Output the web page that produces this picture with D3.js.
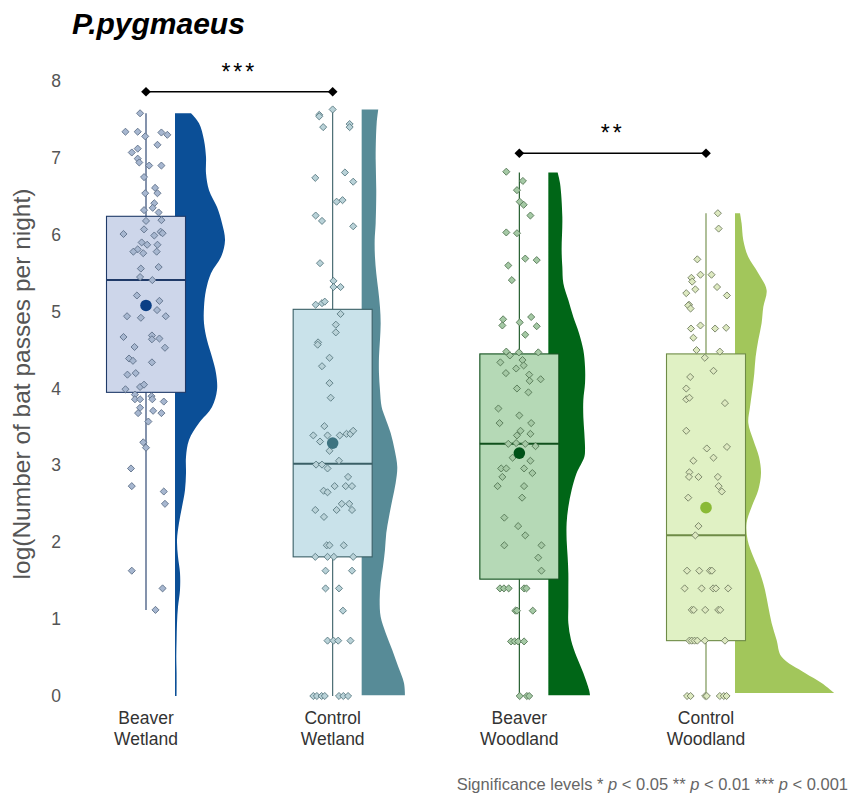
<!DOCTYPE html>
<html>
<head>
<meta charset="utf-8">
<script src="https://cdn.jsdelivr.net/npm/d3@7"></script>
<style>
  html, body { margin: 0; padding: 0; background: #fff; }
  svg { display: block; font-family: "Liberation Sans", Arial, sans-serif; }
</style>
</head>
<body>
<svg id="chart" width="852" height="795"></svg>
<script>
// ---- data ---------------------------------------------------------------
const categories = ["Beaver Wetland", "Control Wetland", "Beaver Woodland", "Control Woodland"];
const categoryLabels = [["Beaver", "Wetland"], ["Control", "Wetland"], ["Beaver", "Woodland"], ["Control", "Woodland"]];
const yTicks = [0, 1, 2, 3, 4, 5, 6, 7, 8];

// box-plot summaries (log bat passes per night)
const whiskerLow  = [1.12, 0.00, 0.00, 0.00];
const quartile1   = [3.95, 1.81, 1.52, 0.72];
const medians     = [5.41, 3.02, 3.28, 2.09];
const quartile3   = [6.24, 5.03, 4.45, 4.45];
const whiskerHigh = [7.58, 7.63, 6.81, 6.28];
const means       = [5.08, 3.29, 3.16, 2.45];

// half-violin density profiles: [value, density]
const densityBeaverWetland = [[0,0.016],[0.30,0.016],[0.51,0.013],[0.73,0.016],[0.95,0.02],[1.16,0.03],[1.38,0.05],[1.60,0.05],[1.81,0.03],[2.03,0.02],[2.25,0.04],[2.46,0.07],[2.68,0.10],[2.90,0.11],[3.11,0.11],[3.33,0.14],[3.55,0.24],[3.76,0.37],[3.98,0.42],[4.20,0.41],[4.41,0.37],[4.63,0.32],[4.85,0.29],[5.06,0.29],[5.28,0.31],[5.50,0.36],[5.71,0.46],[5.93,0.50],[6.15,0.47],[6.36,0.42],[6.58,0.34],[6.80,0.31],[7.01,0.31],[7.23,0.29],[7.45,0.24],[7.58,0.16]];
const densityControlWetland = [[0.01,0.433],[0.17,0.423],[0.38,0.366],[0.60,0.306],[0.82,0.24],[1.03,0.19],[1.25,0.18],[1.47,0.19],[1.68,0.213],[1.90,0.233],[2.12,0.246],[2.33,0.273],[2.55,0.306],[2.77,0.34],[2.98,0.356],[3.20,0.33],[3.42,0.29],[3.63,0.233],[3.76,0.20],[3.98,0.183],[4.20,0.173],[4.41,0.173],[4.63,0.183],[4.85,0.19],[5.06,0.183],[5.28,0.166],[5.50,0.146],[5.71,0.133],[5.93,0.13],[6.15,0.14],[6.58,0.146],[7.01,0.14],[7.45,0.15],[7.63,0.166]];
const densityBeaverWoodland = [[0.01,0.417],[0.08,0.407],[0.30,0.35],[0.51,0.283],[0.73,0.227],[0.95,0.20],[1.16,0.20],[1.38,0.20],[1.60,0.20],[1.81,0.193],[2.03,0.183],[2.25,0.183],[2.46,0.20],[2.68,0.233],[2.90,0.283],[3.11,0.36],[3.20,0.367],[3.42,0.36],[3.63,0.35],[3.85,0.35],[4.07,0.367],[4.28,0.367],[4.50,0.35],[4.72,0.307],[4.93,0.25],[5.15,0.20],[5.37,0.15],[5.58,0.14],[5.80,0.133],[6.23,0.14],[6.67,0.117],[6.81,0.093]];
const densityControlWoodland = [[0.04,0.993],[0.17,0.866],[0.30,0.70],[0.51,0.466],[0.73,0.416],[0.95,0.366],[1.16,0.333],[1.38,0.30],[1.60,0.25],[1.81,0.183],[2.03,0.126],[2.25,0.116],[2.46,0.166],[2.68,0.233],[2.90,0.26],[3.11,0.24],[3.33,0.183],[3.55,0.133],[3.76,0.15],[3.98,0.173],[4.20,0.193],[4.41,0.206],[4.63,0.233],[4.85,0.266],[5.06,0.283],[5.28,0.316],[5.50,0.233],[5.71,0.133],[5.93,0.083],[6.15,0.066],[6.28,0.05]];

// jittered observations: [jitter (fraction of half box width), value]
const pointsBeaverWetland = [[-0.15,7.58],[-0.52,7.34],[-0.21,7.34],[-0.02,7.28],[0.39,7.33],[0.54,7.30],[0.29,7.17],[-0.21,7.12],[-0.36,7.07],[-0.21,6.99],[-0.17,6.94],[0.08,6.90],[0.39,6.90],[-0.05,6.75],[0.23,6.61],[0.29,6.54],[-0.02,6.54],[0.21,6.41],[0.17,6.35],[-0.05,6.32],[0.32,6.29],[0,6.18],[0.39,6.19],[-0.57,6.01],[-0.05,6.07],[0.21,5.99],[0.37,6.04],[0.42,6.02],[-0.11,5.90],[0.03,5.87],[0.29,5.87],[-0.21,5.81],[-0.32,5.78],[-0.07,5.76],[0.27,5.78],[-0.13,5.56],[0.32,5.58],[-0.15,5.45],[0.16,5.41],[-0.23,5.21],[0.34,5.14],[0.28,5.02],[-0.48,4.94],[-0.13,4.92],[0.5,4.94],[-0.57,4.67],[0.15,4.69],[0.15,4.64],[0.34,4.65],[-0.29,4.54],[0.48,4.53],[-0.43,4.39],[-0.33,4.36],[0.15,4.34],[-0.47,4.18],[-0.26,4.20],[-0.15,4.02],[-0.05,4.05],[-0.52,3.99],[-0.28,3.92],[-0.28,3.86],[-0.15,3.86],[0.14,3.90],[0.16,3.86],[0.45,3.83],[-0.15,3.75],[-0.2,3.68],[0.18,3.71],[0.39,3.68],[0.06,3.57],[-0.07,3.30],[0,3.23],[-0.38,2.96],[-0.36,2.73],[0.45,2.66],[0.48,2.50],[-0.36,1.63],[0.42,1.40],[0.24,1.12]];
const pointsControlWetland = [[0,7.63],[-0.34,7.56],[-0.34,7.54],[-0.24,7.40],[0.43,7.44],[0.43,7.40],[-0.44,6.74],[0.31,6.81],[0.52,6.69],[0.1,6.43],[0.25,6.45],[-0.43,6.25],[-0.27,6.18],[0.52,6.11],[-0.32,5.63],[0.02,5.40],[0.02,5.32],[0.2,5.32],[-0.43,5.09],[-0.27,5.11],[-0.2,5.13],[0.2,4.97],[0.08,4.83],[0.08,4.73],[-0.37,4.60],[-0.38,4.57],[-0.08,4.40],[-0.27,4.29],[-0.08,4.07],[-0.05,3.88],[-0.21,3.51],[-0.49,3.39],[-0.13,3.39],[-0.32,3.31],[0.18,3.39],[0.35,3.41],[0.45,3.41],[0.52,3.45],[-0.08,3.19],[0.16,3.06],[-0.42,3.01],[-0.27,3.01],[-0.13,2.96],[0.39,2.85],[0.05,2.73],[0.33,2.73],[0.49,2.73],[-0.23,2.67],[-0.13,2.65],[0.23,2.50],[0.42,2.50],[-0.44,2.42],[0.1,2.42],[0.49,2.42],[-0.22,2.33],[-0.15,1.96],[-0.08,1.96],[0.28,1.96],[-0.44,1.81],[-0.13,1.81],[0.03,1.81],[0.52,1.81],[-0.18,1.63],[0.49,1.63],[-0.18,1.40],[0.16,1.40],[0.26,1.11],[-0.13,0.72],[0.02,0.72],[0.14,0.72],[0.45,0.72],[-0.49,0],[-0.4,0],[-0.28,0],[-0.2,0],[0.16,0],[0.27,0],[0.39,0]];
const pointsBeaverWoodland = [[-0.33,6.82],[0.09,6.70],[-0.06,6.58],[0.01,6.43],[0.11,6.39],[0.28,6.25],[-0.33,6.03],[-0.06,6.02],[0.15,5.69],[0.44,5.67],[-0.28,5.60],[-0.19,5.41],[-0.41,4.90],[-0.43,4.82],[0.01,4.86],[0.3,4.93],[0.44,4.81],[0.15,4.70],[-0.33,4.48],[-0.24,4.43],[-0.01,4.47],[0.48,4.47],[-0.48,4.34],[0.08,4.37],[0.11,4.30],[-0.08,4.26],[-0.34,4.20],[0.25,4.18],[0.26,4.10],[0.54,4.12],[-0.06,4.00],[0.23,3.95],[-0.53,3.74],[0,3.65],[-0.5,3.55],[0.3,3.55],[0.03,3.45],[-0.06,3.39],[0.28,3.41],[-0.28,3.28],[-0.08,3.29],[0.15,3.28],[0.41,3.25],[-0.17,3.10],[0.28,3.06],[-0.46,2.96],[-0.33,2.96],[0.12,2.96],[0.33,2.90],[-0.43,2.85],[-0.55,2.73],[0.12,2.73],[0.07,2.58],[-0.38,2.32],[-0.03,2.21],[0.15,2.09],[-0.38,1.96],[0.56,1.96],[0.48,1.80],[0.56,1.63],[-0.49,1.40],[-0.39,1.40],[-0.27,1.40],[0.12,1.40],[0.18,1.40],[-0.1,1.11],[-0.06,1.11],[0.34,1.11],[-0.21,0.71],[-0.12,0.71],[-0.03,0.71],[0.12,0.71],[0.01,0],[0.19,0],[0.25,0]];
const pointsControlWoodland = [[0.3,6.28],[0.32,6.08],[-0.22,5.68],[-0.37,5.44],[-0.35,5.39],[-0.14,5.48],[0.14,5.48],[-0.27,5.29],[0.28,5.32],[-0.5,5.24],[0.53,5.21],[-0.43,5.09],[-0.45,5.08],[-0.39,5.04],[-0.38,4.78],[-0.14,4.82],[0.23,4.78],[0.51,4.79],[-0.32,4.66],[-0.24,4.50],[0.35,4.48],[-0.03,4.40],[0.19,4.23],[-0.4,4.15],[-0.5,4.00],[-0.5,3.86],[-0.42,3.88],[0.48,3.81],[-0.5,3.45],[0.02,3.22],[0.53,3.24],[-0.32,3.06],[0.19,3.10],[-0.42,2.91],[-0.43,2.85],[-0.19,2.85],[0.3,2.85],[0.32,2.73],[0.4,2.66],[-0.45,2.58],[-0.19,2.21],[-0.27,2.09],[-0.48,1.63],[-0.17,1.63],[0.1,1.63],[0.15,1.63],[-0.54,1.40],[-0.11,1.40],[0.18,1.40],[0.25,1.40],[0.56,1.40],[-0.36,1.12],[-0.31,1.12],[-0.02,1.12],[0.31,1.12],[0.36,1.12],[-0.42,0.72],[-0.36,0.72],[-0.29,0.72],[-0.22,0.72],[-0.03,0.72],[0.48,0.72],[-0.48,0],[-0.39,0],[-0.02,0],[0.02,0],[0.35,0],[0.45,0],[0.52,0]];

// significance comparisons
const comparisonPairs  = [["Beaver Wetland", "Control Wetland"], ["Beaver Woodland", "Control Woodland"]];
const comparisonLevels = [7.86, 7.06];
const comparisonStars  = ["***", "**"];

const densities = [densityBeaverWetland, densityControlWetland, densityBeaverWoodland, densityControlWoodland];
const pointSets = [pointsBeaverWetland, pointsControlWetland, pointsBeaverWoodland, pointsControlWoodland];

// ---- styles -------------------------------------------------------------
const palette = [
  { dens: "#0b4f97", box: "#cdd6ea", line: "#1f3a68", mean: "#0a3f85", ptFill: "#a7b7d0", ptStroke: "#5f7089" },
  { dens: "#578b97", box: "#c9e2ea", line: "#3a5f66", mean: "#3d7380", ptFill: "#b9d2d8", ptStroke: "#5a7a82" },
  { dens: "#006617", box: "#b5d9b6", line: "#11501c", mean: "#005218", ptFill: "#a5c9a5", ptStroke: "#557755" },
  { dens: "#a2c65b", box: "#e0f1c4", line: "#6e8b46", mean: "#8aba36", ptFill: "#dde9c0", ptStroke: "#737f62" }
];

// ---- scales -------------------------------------------------------------
const svg = d3.select("#chart");
const y = d3.scaleLinear().domain([0, 8]).range([696, 81]);
const x = d3.scalePoint().domain(categories).range([146, 706]);
const halfBox = 39.5;
const jitterScale = d3.scaleLinear().domain([-1, 1]).range([-halfBox, halfBox]);
const densWidth = d3.scaleLinear().domain([0, 1]).range([0, 100]);
const densOffset = 29;

// ---- title --------------------------------------------------------------
svg.append("text")
  .attr("x", 72).attr("y", 34)
  .attr("font-size", 30).attr("font-weight", "bold").attr("font-style", "italic")
  .attr("fill", "#000")
  .text("P.pygmaeus");

// ---- y axis -------------------------------------------------------------
const yAxis = svg.append("g")
  .attr("transform", "translate(64,0)")
  .call(d3.axisLeft(y).tickValues(yTicks).tickSize(0).tickPadding(3).tickFormat(d3.format("d")));
yAxis.select(".domain").remove();
yAxis.selectAll("text")
  .attr("font-size", 17.5).attr("fill", "#555").attr("font-family", "Liberation Sans, Arial, sans-serif");

svg.append("text")
  .attr("transform", "translate(30," + 384 + ") rotate(-90)")
  .attr("text-anchor", "middle")
  .attr("font-size", 24.5).attr("fill", "#555")
  .text("log(Number of bat passes per night)");

// ---- raincloud groups ---------------------------------------------------
const area = d3.area()
  .curve(d3.curveCatmullRom)
  .y(d => y(d[0]));

const diamond = d3.symbol().type(d3.symbolDiamond2 || d3.symbolDiamond).size(32);

categories.forEach((cat, i) => {
  const cx = x(cat);
  const col = palette[i];
  const g = svg.append("g");

  // half violin
  const left = cx + densOffset;
  g.append("path")
    .datum(densities[i])
    .attr("d", area.x0(left).x1(d => left + densWidth(d[1])))
    .attr("fill", col.dens);

  // whiskers
  g.append("line")
    .attr("x1", cx).attr("x2", cx)
    .attr("y1", y(whiskerLow[i])).attr("y2", y(quartile1[i]))
    .attr("stroke", col.line).attr("stroke-width", 1.1);
  g.append("line")
    .attr("x1", cx).attr("x2", cx)
    .attr("y1", y(quartile3[i])).attr("y2", y(whiskerHigh[i]))
    .attr("stroke", col.line).attr("stroke-width", 1.1);

  // box
  g.append("rect")
    .attr("x", cx - halfBox).attr("width", halfBox * 2)
    .attr("y", y(quartile3[i])).attr("height", y(quartile1[i]) - y(quartile3[i]))
    .attr("fill", col.box).attr("stroke", col.line).attr("stroke-width", 1.1);
  g.append("line")
    .attr("x1", cx - halfBox).attr("x2", cx + halfBox)
    .attr("y1", y(medians[i])).attr("y2", y(medians[i]))
    .attr("stroke", col.line).attr("stroke-width", 2);

  // observations
  g.selectAll("path.pt")
    .data(pointSets[i])
    .join("path")
    .attr("class", "pt")
    .attr("d", diamond)
    .attr("transform", d => `translate(${cx + jitterScale(d[0])},${y(d[1])})`)
    .attr("fill", col.ptFill).attr("stroke", col.ptStroke).attr("stroke-width", 0.9);

  // mean
  g.append("circle")
    .attr("cx", cx).attr("cy", y(means[i])).attr("r", 5.8)
    .attr("fill", col.mean);

  // category label
  const lab = svg.append("text")
    .attr("text-anchor", "middle")
    .attr("font-size", 17.5).attr("fill", "#333");
  categoryLabels[i].forEach((line, k) => {
    lab.append("tspan").attr("x", cx).attr("y", 724 + k * 21).text(line);
  });
});

// ---- significance brackets ---------------------------------------------
const marker = d3.symbol().type(d3.symbolDiamond2 || d3.symbolDiamond).size(60);
comparisonPairs.forEach((pair, i) => {
  const x1 = x(pair[0]), x2 = x(pair[1]), yy = y(comparisonLevels[i]);
  const g = svg.append("g");
  g.append("line")
    .attr("x1", x1).attr("x2", x2).attr("y1", yy).attr("y2", yy)
    .attr("stroke", "#000").attr("stroke-width", 1.3);
  [x1, x2].forEach(px => {
    g.append("path").attr("d", marker).attr("transform", `translate(${px},${yy})`).attr("fill", "#000");
  });
  g.append("text")
    .attr("x", (x1 + x2) / 2).attr("y", yy - 12)
    .attr("text-anchor", "middle")
    .attr("font-size", 23).attr("letter-spacing", 3).attr("fill", "#000")
    .text(comparisonStars[i]);
});

// ---- footnote -----------------------------------------------------------
const note = svg.append("text")
  .attr("x", 848).attr("y", 790)
  .attr("text-anchor", "end")
  .attr("font-size", 16.5).attr("fill", "#666");
[["Significance levels * ", false], ["p", true], [" < 0.05 ** ", false], ["p", true], [" < 0.01 *** ", false], ["p", true], [" < 0.001", false]]
  .forEach(([t, it]) => note.append("tspan").attr("font-style", it ? "italic" : "normal").text(t));
</script>
</body>
</html>
